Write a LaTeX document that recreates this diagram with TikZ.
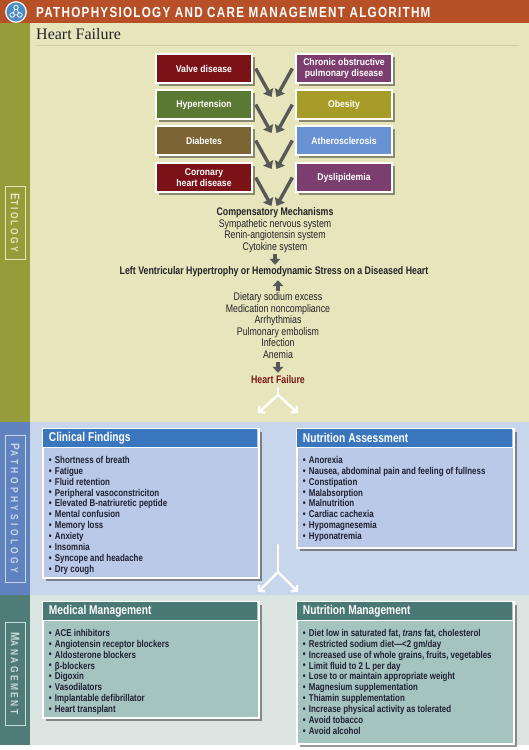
\documentclass[tikz,border=0pt]{standalone}
\usepackage{fontspec}
\newfontfamily\cf[FakeStretch=0.80]{Liberation Sans}
\newfontfamily\cfw[FakeStretch=0.88]{Liberation Sans}
\newfontfamily\hfserif{Liberation Serif}
\usetikzlibrary{arrows.meta,shadows}
\definecolor{hdr}{RGB}{183,80,38}
\definecolor{etbg}{RGB}{231,229,187}
\definecolor{etstripe}{RGB}{150,156,58}
\definecolor{ptbg}{RGB}{200,214,236}
\definecolor{ptstripe}{RGB}{96,131,192}
\definecolor{mgbg}{RGB}{218,229,225}
\definecolor{mgstripe}{RGB}{80,124,120}
\definecolor{cbody}{RGB}{186,201,232}
\definecolor{chead}{RGB}{58,118,190}
\definecolor{mbody}{RGB}{166,196,191}
\definecolor{mhead}{RGB}{74,120,116}
\definecolor{dred}{RGB}{122,18,24}
\definecolor{plum}{RGB}{123,62,110}
\definecolor{hgreen}{RGB}{90,122,52}
\definecolor{mustard}{RGB}{168,156,40}
\definecolor{brownb}{RGB}{124,100,52}
\definecolor{skyb}{RGB}{104,146,212}
\definecolor{arrowgray}{RGB}{88,88,88}
\definecolor{txt}{RGB}{35,35,40}
\definecolor{listcol}{RGB}{30,32,50}
\definecolor{hftxt}{RGB}{122,26,20}
\definecolor{logo}{RGB}{76,140,196}
\definecolor{rulecol}{RGB}{210,207,165}
\definecolor{ptlab}{RGB}{200,214,236}
\definecolor{mglab}{RGB}{200,220,215}
\newcommand\itm{\makebox[6pt][l]{\fontsize{10}{10}\selectfont\raisebox{0.2pt}{\textbullet}}}
\newcommand\sidecaps[3]{\addfontfeature{LetterSpace=#3}{\fontsize{12.5}{12}\selectfont #1}{\fontsize{10.5}{10}\selectfont #2}}
\begin{document}
\begin{tikzpicture}[x=1pt,y=-1pt,
  etbox/.style={draw=white, line width=1.4pt, minimum width=96pt, minimum height=29pt, inner sep=1pt, text=white, align=center, font=\cfw\bfseries\fontsize{9.8}{10.6}\selectfont, drop shadow={shadow xshift=2.5pt, shadow yshift=-2.5pt, opacity=0.4, fill=black}},
  etarrow/.style={draw=arrowgray, line width=3.4pt, -{Triangle[width=11pt,length=7pt]}},
  midarrow/.style={draw=arrowgray, line width=3.4pt, -{Triangle[width=10.5pt,length=6pt]}},
  mid/.style={inner sep=0pt, anchor=base, text height=8pt, text depth=2.5pt, text=txt, font=\cf\fontsize{11}{12}\selectfont},
  midb/.style={mid, font=\cf\bfseries\fontsize{11}{12}\selectfont},
  ystem/.style={draw=white, line width=2.4pt, line cap=round},
  yarrow/.style={draw=white, line width=2.4pt, -{Straight Barb[length=4pt,width=9pt]}},
  panel/.style={draw=white, line width=1.5pt, inner sep=0pt, anchor=north west, drop shadow={shadow xshift=3pt, shadow yshift=-3pt, opacity=0.4, fill=black}},
  hbar/.style={inner sep=0pt, anchor=north west, minimum height=18.5pt},
  headtxt/.style={inner sep=0pt, anchor=west, text=white, font=\cf\bfseries\fontsize{12.75}{13}\selectfont},
  listtxt/.style={inner sep=0pt, anchor=north west, align=left, text=listcol, font=\cf\bfseries\fontsize{9.9}{10.9}\selectfont},
  sidelab/.style={draw, line width=0.8pt, rotate=-90, inner sep=0pt, minimum height=20pt, font=\cf\bfseries},
]
\useasboundingbox (0,0) rectangle (529,750);
% backgrounds
\fill[white] (0,0) rectangle (529,750);
\fill[hdr] (0,0) rectangle (529,23);
\fill[etstripe] (0,23) rectangle (30,422);
\fill[etbg] (30,23) rectangle (529,422);
\fill[ptstripe] (0,422) rectangle (30,595);
\fill[ptbg] (30,422) rectangle (529,595);
\fill[mgstripe] (0,595) rectangle (30,745);
\fill[mgbg] (30,595) rectangle (529,745);
% header
\node[circle, fill=logo, draw=white, line width=1.2pt, minimum size=20.5pt, inner sep=0pt] (logo) at (16,12) {};
\begin{scope}[shift={(logo.center)}, white, line width=0.8pt]
  \draw (0,-4.5) circle (2.3) (-3.8,3) circle (2.3) (3.8,3) circle (2.3);
  \draw (-1.1,-2.5) -- (-2.7,1) (1.1,-2.5) -- (2.7,1) (-1.5,3) -- (1.5,3);
\end{scope}
\node[anchor=west, inner sep=0pt, text=white, font=\cf\bfseries\addfontfeature{LetterSpace=8.7}\fontsize{14.6}{15}\selectfont] (title) at (36,12.5) {PATHOPHYSIOLOGY AND CARE MANAGEMENT ALGORITHM};
\node[anchor=west, inner sep=0pt, text=txt, font=\hfserif\fontsize{16}{18}\selectfont] (hftitle) at (36,34) {Heart Failure};
\draw[rulecol, line width=0.7pt] (36,45) -- (519,45);
% side labels
\node[sidelab, draw=etbg, text=etbg, minimum width=73pt] (etl) at (15,222.5) {\sidecaps{E}{TIOLOGY}{22}};
\node[sidelab, draw=ptlab, text=ptlab, minimum width=147pt] (ptl) at (15,508.5) {\sidecaps{P}{ATHOPHYSIOLOGY}{32}};
\node[sidelab, draw=mglab, text=mglab, minimum width=103pt] (mgl) at (15,673.5) {\sidecaps{M}{ANAGEMENT}{23}};
% etiology boxes
\node[etbox, fill=dred] (valve) at (204,68.5) {Valve disease};
\node[etbox, fill=plum] (copd) at (344,68.5) {Chronic obstructive\\pulmonary disease};
\node[etbox, fill=hgreen] (htn) at (204,104.5) {Hypertension};
\node[etbox, fill=mustard] (obes) at (344,104.5) {Obesity};
\node[etbox, fill=brownb] (diab) at (204,140.5) {Diabetes};
\node[etbox, fill=skyb] (ath) at (344,140.5) {Atherosclerosis};
\node[etbox, fill=dred] (chd) at (204,177.5) {Coronary\\heart disease};
\node[etbox, fill=plum] (dys) at (344,177.5) {Dyslipidemia};
\coordinate (m1l) at (271.5,97);  \coordinate (m1r) at (276.5,97);
\coordinate (m2l) at (271.5,133); \coordinate (m2r) at (276.5,133);
\coordinate (m3l) at (271.5,169); \coordinate (m3r) at (276.5,169);
\coordinate (m4l) at (271.5,206); \coordinate (m4r) at (276.5,206);
\draw[etarrow] ([xshift=3pt]valve.east) -- (m1l);
\draw[etarrow] ([xshift=-3pt]copd.west) -- (m1r);
\draw[etarrow] ([xshift=3pt]htn.east) -- (m2l);
\draw[etarrow] ([xshift=-3pt]obes.west) -- (m2r);
\draw[etarrow] ([xshift=3pt]diab.east) -- (m3l);
\draw[etarrow] ([xshift=-3pt]ath.west) -- (m3r);
\draw[etarrow] ([xshift=3pt]chd.east) -- (m4l);
\draw[etarrow] ([xshift=-3pt]dys.west) -- (m4r);
% middle stack
\node[midb] (comp) at (275,215.7) {Compensatory Mechanisms};
\node[mid] (sns) at (275,227.2) {Sympathetic nervous system};
\node[mid] (ras) at (275,238.7) {Renin-angiotensin system};
\node[mid] (cyt) at (275,250.2) {Cytokine system};
\node[midb] (lvh) at (274,274.7) {Left Ventricular Hypertrophy or Hemodynamic Stress on a Diseased Heart};
\node[mid] (diet) at (278,300.4) {Dietary sodium excess};
\node[mid] (med) at (278,312) {Medication noncompliance};
\node[mid] (arr) at (278,323.7) {Arrhythmias};
\node[mid] (pe) at (278,335.4) {Pulmonary embolism};
\node[mid] (inf) at (278,346.4) {Infection};
\node[mid] (anem) at (278,358) {Anemia};
\node[midb, text=hftxt] (hf) at (278,383.7) {Heart Failure};
\draw[midarrow] ([yshift=-1.3pt]cyt.south) -- ([yshift=1.7pt]cyt.south |- lvh.north);
\draw[midarrow] ([yshift=1.4pt]diet.north) -- ([yshift=-2.8pt]diet.north |- lvh.south);
\draw[midarrow] ([yshift=-1.5pt]anem.south) -- ([yshift=2.7pt]hf.north);
% Y arrow 1
\coordinate (y1j) at (278,395);
\coordinate (y1a) at (258,413);
\coordinate (y1b) at (298,413);
\draw[ystem] ([yshift=-1.8pt]hf.south) -- (y1j);
\draw[yarrow] (y1j) -- (y1a);
\draw[yarrow] (y1j) -- (y1b);
% panels
\node[panel, fill=cbody, minimum width=216pt, minimum height=149pt] (clin) at (42,428) {};
\node[hbar, fill=chead, minimum width=214.5pt] (clinh) at ([shift={(0.75pt,-0.75pt)}]clin.north west) {};
\draw[white, line width=1.2pt] (clinh.south west) -- (clinh.south east);
\node[headtxt] (clint) at ([xshift=6pt]clinh.west) {Clinical Findings};
\node[listtxt] (clinl) at ([shift={(6pt,-8.3pt)}]clinh.south west) {\itm Shortness of breath\\ \itm Fatigue\\ \itm Fluid retention\\ \itm Peripheral vasoconstriciton\\ \itm Elevated B-natriuretic peptide\\ \itm Mental confusion\\ \itm Memory loss\\ \itm Anxiety\\ \itm Insomnia\\ \itm Syncope and headache\\ \itm Dry cough};

\node[panel, fill=cbody, minimum width=217pt, minimum height=119pt] (nass) at (296,428) {};
\node[hbar, fill=chead, minimum width=215.5pt] (nassh) at ([shift={(0.75pt,-0.75pt)}]nass.north west) {};
\draw[white, line width=1.2pt] (nassh.south west) -- (nassh.south east);
\node[headtxt] (nasst) at ([xshift=6pt]nassh.west) {Nutrition Assessment};
\node[listtxt] (nassl) at ([shift={(6pt,-8.3pt)}]nassh.south west) {\itm Anorexia\\ \itm Nausea, abdominal pain and feeling of fullness\\ \itm Constipation\\ \itm Malabsorption\\ \itm Malnutrition\\ \itm Cardiac cachexia\\ \itm Hypomagnesemia\\ \itm Hyponatremia};
% Y arrow 2
\coordinate (y2s) at (278,545);
\coordinate (y2j) at (278,572);
\coordinate (y2a) at (258,592);
\coordinate (y2b) at (298,592);
\draw[ystem] (y2s) -- (y2j);
\draw[yarrow] (y2j) -- (y2a);
\draw[yarrow] (y2j) -- (y2b);

\node[panel, fill=mbody, minimum width=216pt, minimum height=116pt] (medm) at (42,601) {};
\node[hbar, fill=mhead, minimum width=214.5pt] (medmh) at ([shift={(0.75pt,-0.75pt)}]medm.north west) {};
\draw[white, line width=1.2pt] (medmh.south west) -- (medmh.south east);
\node[headtxt] (medmt) at ([xshift=6pt]medmh.west) {Medical Management};
\node[listtxt] (medml) at ([shift={(6pt,-8.3pt)}]medmh.south west) {\itm ACE inhibitors\\ \itm Angiotensin receptor blockers\\ \itm Aldosterone blockers\\ \itm β-blockers\\ \itm Digoxin\\ \itm Vasodilators\\ \itm Implantable defibrillator\\ \itm Heart transplant};

\node[panel, fill=mbody, minimum width=217pt, minimum height=142pt] (nutm) at (296,601) {};
\node[hbar, fill=mhead, minimum width=215.5pt] (nutmh) at ([shift={(0.75pt,-0.75pt)}]nutm.north west) {};
\draw[white, line width=1.2pt] (nutmh.south west) -- (nutmh.south east);
\node[headtxt] (nutmt) at ([xshift=6pt]nutmh.west) {Nutrition Management};
\node[listtxt] (nutml) at ([shift={(6pt,-8.3pt)}]nutmh.south west) {\itm Diet low in saturated fat, \textit{trans} fat, cholesterol\\ \itm Restricted sodium diet—<2 gm/day\\ \itm Increased use of whole grains, fruits, vegetables\\ \itm Limit fluid to 2 L per day\\ \itm Lose to or maintain appropriate weight\\ \itm Magnesium supplementation\\ \itm Thiamin supplementation\\ \itm Increase physical activity as tolerated\\ \itm Avoid tobacco\\ \itm Avoid alcohol};
\end{tikzpicture}
\end{document}
